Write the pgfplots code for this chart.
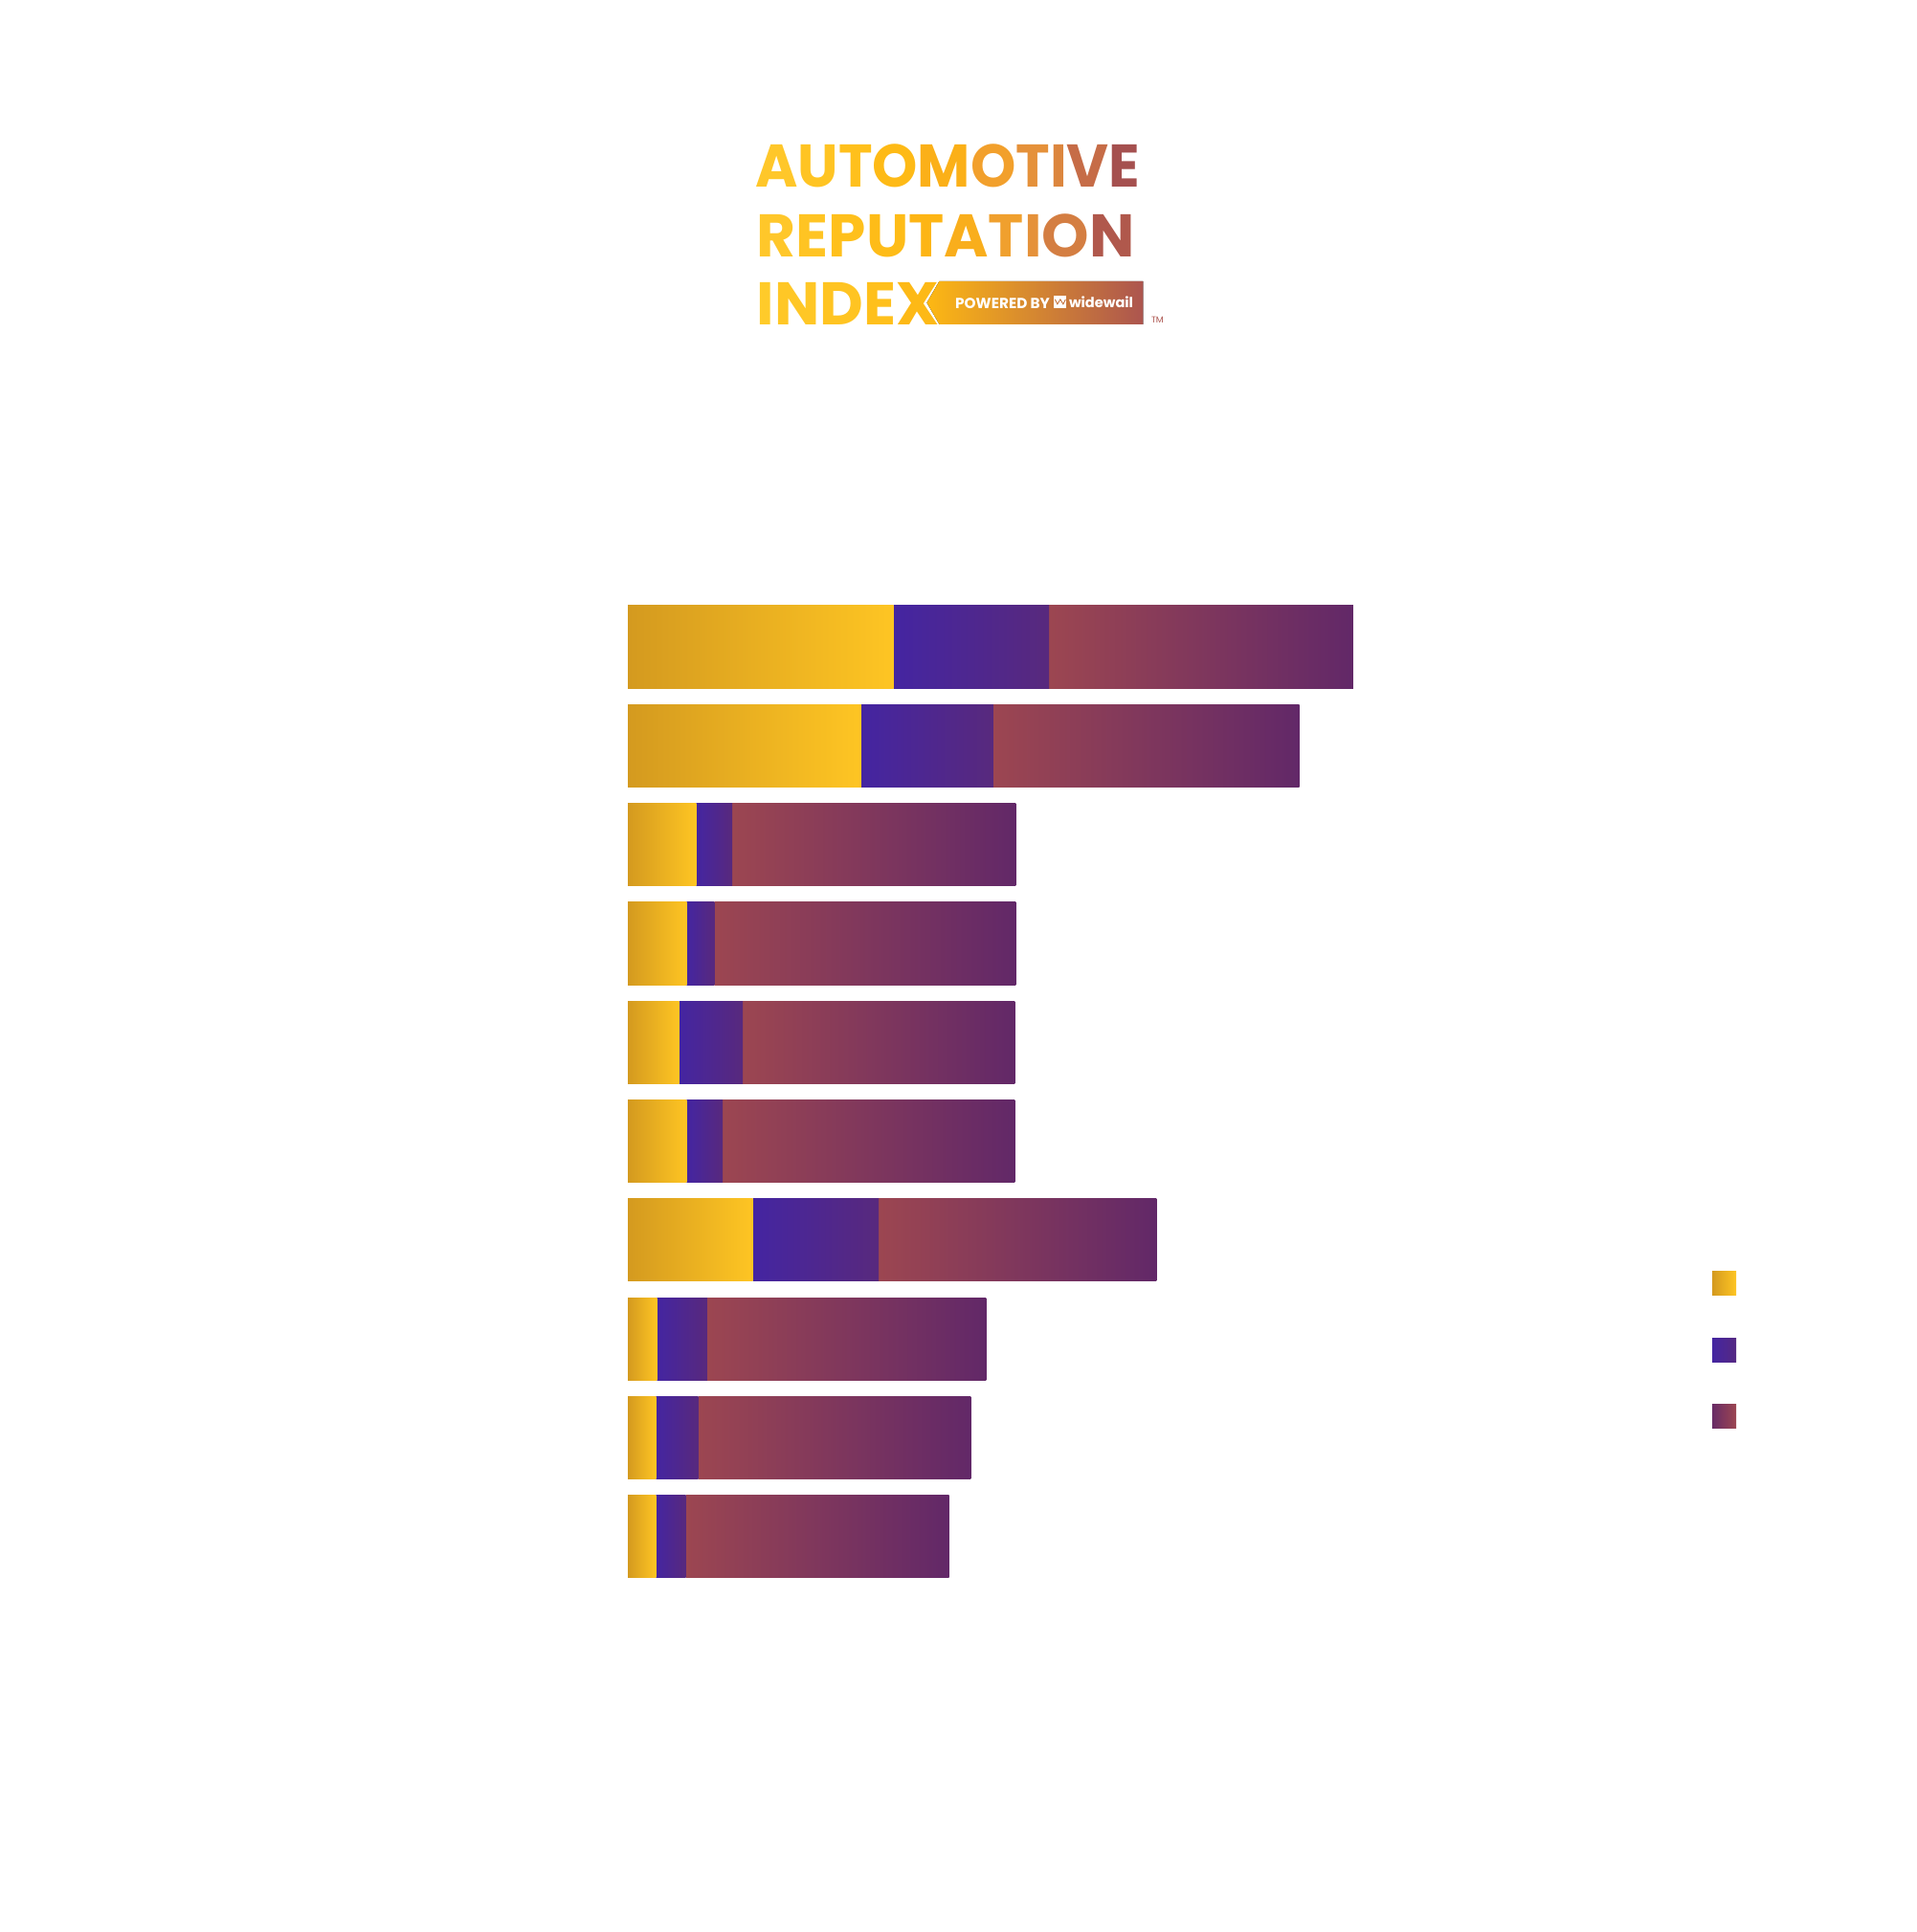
\documentclass[border=0pt]{standalone}
\usepackage{fontspec}
\usepackage{pgfplots}
\usepackage{pgfplotstable}
\pgfplotsset{compat=1.18}
\newfontfamily\titlefont{Poppins}

\definecolor{ylwL}{HTML}{D49A1F}
\definecolor{ylwR}{HTML}{FEC523}
\definecolor{bluL}{HTML}{4425A1}
\definecolor{bluR}{HTML}{58297D}
\definecolor{redL}{HTML}{9C4651}
\definecolor{redR}{HTML}{622868}
\definecolor{bnrL}{HTML}{FDB813}
\definecolor{bnrR}{HTML}{AC554F}

% bar segments (bar 1 is the top one)
\pgfplotstableread{
cat pos  neu   neg
10  277.8 162.6 318.0
9   244.0 138.0 320.0
8   71.3  38.0  296.4
7   61.3  29.0  315.4
6   53.7  66.6  284.4
5   61.3  38.0  305.4
4   130.7 131.6 290.4
3   30.3  52.7  291.7
2   29.3  44.4  285.0
1   29.3  31.4  275.0
}\bars

% one axis per bar, all stacked on the same spot, so each segment gets its own gradient
\pgfplotsset{
  rowaxis/.style={at={(6.56cm,-6.2435cm)}, anchor=north west,
    x=0.01cm, y=1.033cm, xmin=0, xmax=800, ymin=0.5, ymax=10.5,
    hide axis, xbar stacked, bar width=0.862cm},
  segpos/.style={xbar, draw=none, left color=ylwL, right color=ylwR,
    legend image code/.code={\fill[left color=ylwL,right color=ylwR] (0cm,-0.125cm) rectangle (0.25cm,0.125cm);}},
  segneu/.style={xbar, draw=none, left color=bluL, right color=bluR,
    legend image code/.code={\fill[left color=bluL,right color=bluR!85!bluL] (0cm,-0.125cm) rectangle (0.25cm,0.125cm);}},
  segneg/.style={xbar, draw=none, left color=redL, right color=redR,
    legend image code/.code={\fill[left color=redR!90!redL,right color=redL] (0cm,-0.125cm) rectangle (0.25cm,0.125cm);}},
}

\newcommand{\lt}[2]{\textcolor[HTML]{#1}{#2}}

\begin{document}
\begin{tikzpicture}
\useasboundingbox (0cm,0cm) rectangle (20.03cm,-20.19cm);

% logo
\begin{scope}[x=0.01cm,y=-0.01cm]
\fill[left color=bnrL,right color=bnrR]
  (982,294) -- (1195,294) -- (1195,339) -- (982,339) -- (969,316.5) -- cycle;
\begin{scope}[every node/.style={anchor=base west,inner sep=0pt,
    font=\titlefont\bfseries\fontsize{17.9}{18}\selectfont}]
\node at (789,196) {\scalebox{0.957}[1]{\lt{FFC72A}{A}\lt{FFC423}{U}\lt{FFC01C}{T}\lt{FEBA16}{O}\lt{FBB018}{M}\lt{F2A02C}{O}\lt{E5913A}{T}\lt{DC863E}{I}\lt{C66C47}{V}\lt{A5504F}{E}}};
\node at (790.5,268.3) {\lt{FFC72A}{R}\lt{FFC423}{E}\lt{FFC01C}{P}\lt{FEBC18}{U}\lt{FDB515}{T}\lt{F9AE1C}{A}\lt{F0A02E}{T}\lt{E5913A}{I}\lt{D47E42}{O}\lt{B0584C}{N}};
\node at (790.5,340) {\lt{FFCB2A}{I}\lt{FFC726}{N}\lt{FFC422}{D}\lt{FFC01C}{E}\lt{FDB916}{X}};
\end{scope}
\node[anchor=base west,inner sep=0pt,text=white,
  font=\titlefont\bfseries\fontsize{4.35}{5}\selectfont] at (998,322.3) {POWERED BY};
\fill[white] (1102,309) rectangle (1115,322);
\draw[bnrR!70!bnrL,line width=0.25pt] (1103,313) -- (1105.5,318) -- (1108.5,313) -- (1111.5,318) -- (1114,313);
\node[anchor=base west,inner sep=0pt,text=white,
  font=\titlefont\bfseries\fontsize{4.15}{5}\selectfont] at (1117,322) {widewail};
\node[anchor=base west,inner sep=0pt,text=bnrR,
  font=\titlefont\fontsize{2.6}{3}\selectfont] at (1203,338) {TM};
\end{scope}

\pgfplotsinvokeforeach{2,...,10}{
\begin{axis}[rowaxis]
\addplot[segpos, restrict y to domain=#1:#1] table[x=pos,y=cat]{\bars};
\addplot[segneu, restrict y to domain=#1:#1] table[x=neu,y=cat]{\bars};
\addplot[segneg, restrict y to domain=#1:#1] table[x=neg,y=cat]{\bars};
\end{axis}
}

\begin{axis}[rowaxis,
  legend style={at={(rel axis cs:1.41625,0.3188)}, anchor=north west,
    draw=none, fill=none, inner sep=0pt, row sep=0.445cm,
    column sep=0pt, nodes={inner sep=0pt}},
]
\addplot[segpos, restrict y to domain=1:1] table[x=pos,y=cat]{\bars};
\addlegendentry{\mbox{}}
\addplot[segneu, restrict y to domain=1:1] table[x=neu,y=cat]{\bars};
\addlegendentry{\mbox{}}
\addplot[segneg, restrict y to domain=1:1] table[x=neg,y=cat]{\bars};
\addlegendentry{\mbox{}}
\end{axis}
\end{tikzpicture}
\end{document}
